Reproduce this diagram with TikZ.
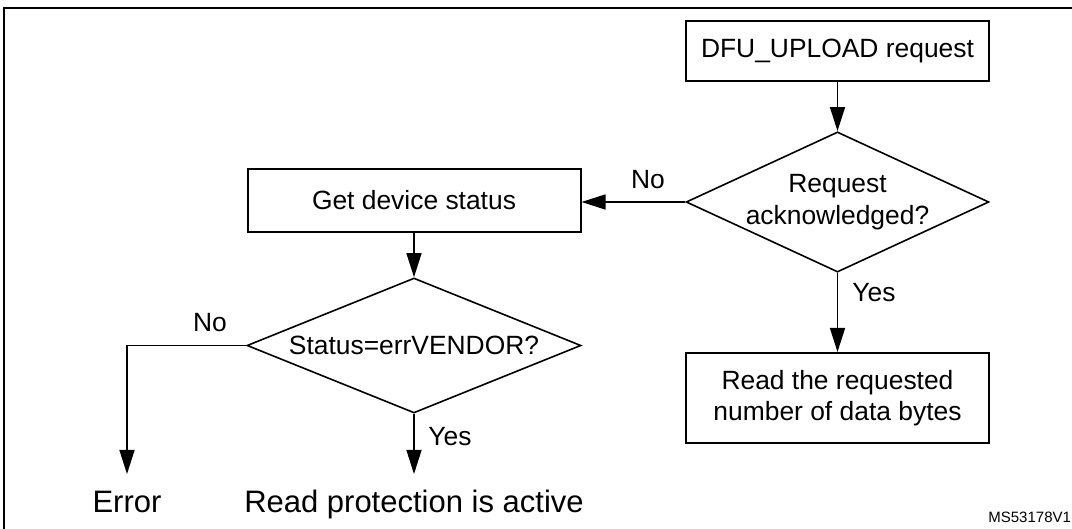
\documentclass[tikz,border=0pt]{standalone}
\usepackage{fontspec}
\setmainfont{Liberation Sans}
\usetikzlibrary{shapes.geometric,arrows.meta}
\tikzset{
  >={Triangle[length=12pt,width=7.5pt]},
  box/.style={draw,line width=1pt,inner sep=0pt,align=center,font=\fontsize{13.2}{15.8}\selectfont},
  decision/.style={draw,diamond,line width=0.8pt,inner sep=0pt,align=center,font=\fontsize{13.2}{15.8}\selectfont},
  term/.style={anchor=north,inner xsep=0pt,inner ysep=8pt,text height=11pt,font=\fontsize{15.5}{18}\selectfont},
  lbl/.style={inner sep=0pt,font=\fontsize{13.2}{15.8}\selectfont},
  flow/.style={line width=0.7pt}
}
\begin{document}
\begin{tikzpicture}[x=0.5pt,y=-0.5pt]
	\useasboundingbox (0,0) rectangle (1072,529);
	% frame
	\draw[line width=1.1pt] (3.7,529) -- (3.7,7.7) -- (1072,7.7);
	% right column
	\node[box,minimum width=151.5pt,minimum height=30pt] (dfu) at (837.5,51) {DFU\_UPLOAD request};
	\node[decision,minimum width=151pt,minimum height=70pt,aspect=2.16] (ack) at (837.5,202) {Request\\acknowledged?};
	\node[box,minimum width=151.5pt,minimum height=45pt] (read) at (837.5,398) {Read the requested\\number of data bytes};
	% left column
	\node[box,minimum width=166.5pt,minimum height=31.5pt] (get) at (414,200.5) {Get device status};
	\node[decision,minimum width=167pt,minimum height=67.5pt,aspect=2.47] (stat) at (414,345.5) {Status=errVENDOR?};
	\node[term] (err) at (127,474) {Error};
	\node[term] (prot) at (414,474) {Read protection is active};
	% answers
	\node[lbl] (noa) at (648,180) {No};
	\node[lbl] (yesa) at (874,293) {Yes};
	\node[lbl] (nob) at (210,323) {No};
	\node[lbl] (yesb) at (450,437) {Yes};
	\node[inner sep=0pt,anchor=west,font=\fontsize{7.5}{9}\selectfont] (msid) at (988,517) {MS53178V1};
	% connectors
	\draw[flow,->] (dfu.south) -- (ack.north);
	\draw[flow,->] (ack.south) -- (read.north);
	\draw[flow,->] (ack.west) -- (ack.west -| get.east);
	\draw[flow,->] (get.south) -- (stat.north);
	\draw[flow,->] (stat.west) -| (err.north);
	\draw[flow,->] (stat.south) -- (prot.north);
\end{tikzpicture}
\end{document}
